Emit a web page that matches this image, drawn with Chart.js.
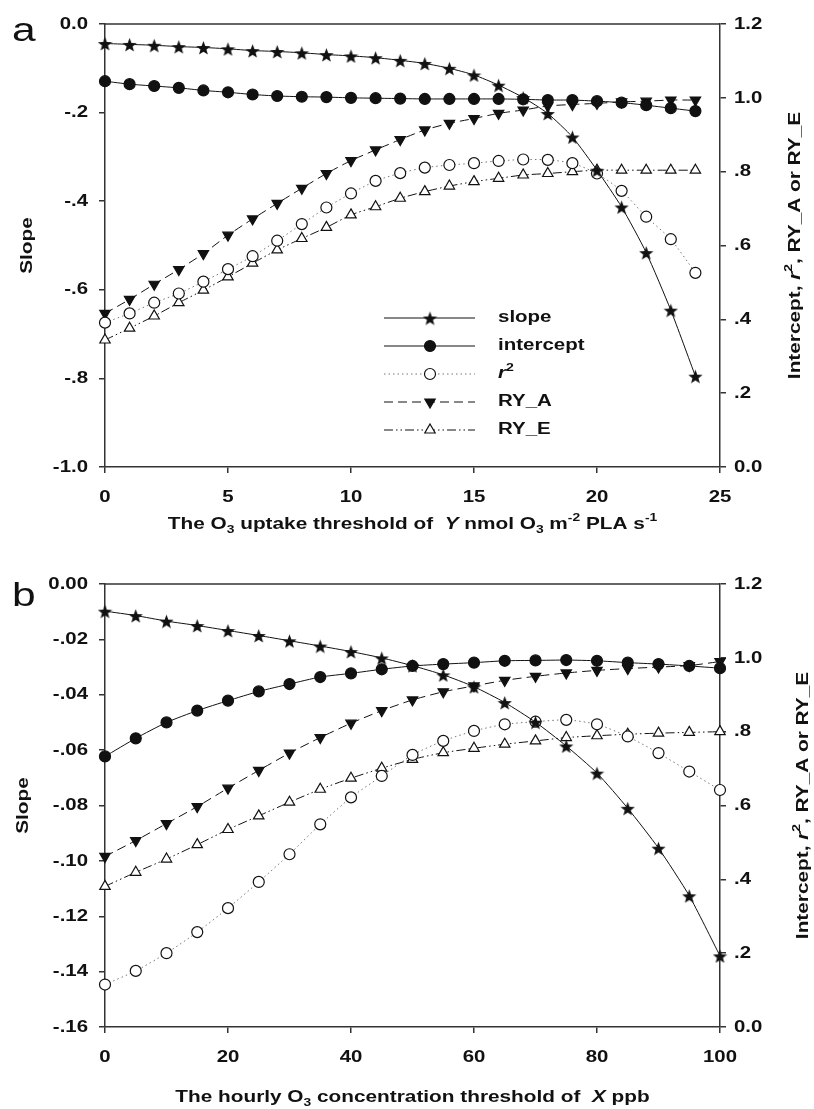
<!DOCTYPE html>
<html>
<head>
<meta charset="utf-8">
<script src="https://cdn.jsdelivr.net/npm/chart.js@4.4.1/dist/chart.umd.min.js"></script>
<style>
  body { margin: 0; background: #fff; width: 814px; height: 1109px; position: relative; overflow: hidden; }
  .panel { position: absolute; left: 0; width: 814px; }
  #wrapA { top: 0; height: 555px; }
  #wrapB { top: 555px; height: 554px; }
  .tag { position: absolute; left: 12px; font: 34px "Liberation Sans", Arial, sans-serif; color: #111; line-height: 1;
         transform: scaleX(1.25); transform-origin: left top; }
</style>
</head>
<body>
<div class="panel" id="wrapA"><canvas id="chartA" width="814" height="555"></canvas></div>
<div class="panel" id="wrapB"><canvas id="chartB" width="814" height="554"></canvas></div>
<div class="tag" style="top:12px">a</div>
<div class="tag" style="top:577px">b</div>
<script>
// ===========================
// Data — panel a (O3 uptake threshold Y)
// ===========================
const xA = [0, 1, 2, 3, 4, 5, 6, 7, 8, 9, 10, 11, 12, 13, 14, 15, 16, 17, 18, 19, 20, 21, 22, 23, 24];
const slopeA     = [-0.044, -0.046, -0.048, -0.051, -0.053, -0.056, -0.060, -0.062, -0.065, -0.069, -0.072, -0.076, -0.082, -0.089, -0.100, -0.115, -0.138, -0.166, -0.202, -0.255, -0.330, -0.413, -0.516, -0.646, -0.795];
const interceptA = [1.045, 1.037, 1.032, 1.027, 1.020, 1.015, 1.009, 1.005, 1.003, 1.002, 1.000, 0.999, 0.998, 0.997, 0.997, 0.997, 0.997, 0.996, 0.994, 0.994, 0.991, 0.987, 0.980, 0.972, 0.964];
const r2A        = [0.391, 0.416, 0.445, 0.470, 0.502, 0.536, 0.571, 0.613, 0.658, 0.703, 0.741, 0.775, 0.796, 0.811, 0.818, 0.823, 0.829, 0.833, 0.832, 0.823, 0.795, 0.748, 0.678, 0.617, 0.526];
const ryAA       = [0.416, 0.454, 0.495, 0.535, 0.578, 0.628, 0.672, 0.714, 0.755, 0.795, 0.830, 0.859, 0.887, 0.913, 0.931, 0.944, 0.958, 0.967, 0.978, 0.982, 0.985, 0.989, 0.991, 0.994, 0.994];
const ryEA       = [0.344, 0.376, 0.409, 0.445, 0.479, 0.515, 0.552, 0.588, 0.619, 0.649, 0.683, 0.705, 0.728, 0.746, 0.761, 0.773, 0.782, 0.791, 0.795, 0.800, 0.804, 0.804, 0.804, 0.804, 0.804];

// ===========================
// Data — panel b (hourly O3 concentration threshold X)
// ===========================
const xB = [0, 5, 10, 15, 20, 25, 30, 35, 40, 45, 50, 55, 60, 65, 70, 75, 80, 85, 90, 95, 100];
const slopeB     = [-0.0098, -0.0114, -0.0134, -0.0150, -0.0168, -0.0186, -0.0205, -0.0224, -0.0244, -0.0267, -0.0295, -0.0328, -0.0371, -0.0428, -0.0499, -0.0585, -0.0683, -0.0810, -0.0954, -0.1126, -0.1343];
const interceptB = [0.733, 0.782, 0.825, 0.857, 0.884, 0.909, 0.929, 0.948, 0.958, 0.969, 0.978, 0.983, 0.987, 0.992, 0.993, 0.994, 0.992, 0.987, 0.983, 0.978, 0.972];
const r2B        = [0.115, 0.152, 0.200, 0.257, 0.322, 0.393, 0.468, 0.549, 0.622, 0.680, 0.737, 0.775, 0.802, 0.820, 0.827, 0.832, 0.820, 0.787, 0.742, 0.692, 0.642];
const ryAB       = [0.462, 0.505, 0.551, 0.597, 0.647, 0.695, 0.742, 0.784, 0.823, 0.857, 0.886, 0.908, 0.924, 0.939, 0.950, 0.959, 0.966, 0.971, 0.975, 0.979, 0.990];
const ryEB       = [0.381, 0.419, 0.455, 0.494, 0.535, 0.572, 0.609, 0.644, 0.674, 0.701, 0.725, 0.743, 0.755, 0.766, 0.775, 0.784, 0.789, 0.793, 0.796, 0.798, 0.800];

// axis titles / legend text (segments: it = italic, sup / sub)
const legendText = [
  [{ t: 'slope' }],
  [{ t: 'intercept' }],
  [{ t: 'r', it: 1 }, { t: '2', sup: 1 }],
  [{ t: 'RY_A' }],
  [{ t: 'RY_E' }],
];
const titleXA = [{ t: 'The O' }, { t: '3', sub: 1 }, { t: ' uptake threshold of  ' }, { t: 'Y', it: 1 },
  { t: ' nmol O' }, { t: '3', sub: 1 }, { t: ' m' }, { t: '-2', sup: 1 }, { t: ' PLA s' }, { t: '-1', sup: 1 }];
const titleXB = [{ t: 'The hourly O' }, { t: '3', sub: 1 }, { t: ' concentration threshold of  ' }, { t: 'X', it: 1 }, { t: ' ppb' }];
const titleLeft = [{ t: 'Slope' }];
const titleRight = [{ t: 'Intercept, ' }, { t: 'r', it: 1 }, { t: '2', sup: 1 }, { t: ', RY_A or RY_E' }];

// ===========================
// Helpers
// ===========================
const FONT = '"Liberation Sans", Arial, sans-serif';
const INK = '#111';
const AXIS = '#333';
const TICK = { size: 17, sx: 1.2 };
const TITLE = { size: 16.5, sx: 1.26 };
const LEG = { size: 16, sx: 1.28 };

function fmt(v, d) {
  if (Math.abs(v) < 1e-9) return (0).toFixed(d);
  const s = v.toFixed(d);
  return Math.abs(v) >= 1 - 1e-9 ? s : s.replace('0.', '.');
}

// draws text made of segments, bold, stretched horizontally by f.sx
function drawRich(ctx, segs, x, y, f, rot, align) {
  ctx.save();
  ctx.translate(x, y);
  ctx.rotate(rot || 0);
  ctx.scale(f.sx, 1);
  let w = 0;
  const parts = segs.map(s => {
    const fs = (s.sup || s.sub) ? Math.round(f.size * 0.68) : f.size;
    const font = (s.it ? 'italic ' : '') + 'bold ' + fs + 'px ' + FONT;
    ctx.font = font;
    const pw = ctx.measureText(s.t).width;
    w += pw;
    return { s, font, pw, dy: s.sup ? -f.size * 0.38 : s.sub ? f.size * 0.34 : 0 };
  });
  let cx = align === 'left' ? 0 : align === 'right' ? -w : -w / 2;
  ctx.fillStyle = INK;
  ctx.textBaseline = 'middle';
  ctx.textAlign = 'left';
  parts.forEach(p => { ctx.font = p.font; ctx.fillText(p.s.t, cx, p.dy); cx += p.pw; });
  ctx.restore();
}

function starImage(size) {
  const c = document.createElement('canvas');
  c.width = size; c.height = size;
  const g = c.getContext('2d');
  const R = size / 2, r = R * 0.42;
  g.beginPath();
  for (let i = 0; i < 10; i++) {
    const a = -Math.PI / 2 + i * Math.PI / 5;
    const rr = i % 2 ? r : R;
    g.lineTo(R + rr * Math.cos(a), R + 1 + rr * Math.sin(a));
  }
  g.closePath();
  g.fillStyle = INK;
  g.fill();
  return c;
}
const STAR = starImage(15);

const styles = {
  slope:     { pointStyle: STAR, pointRadius: 7 },
  intercept: { pointStyle: 'circle', pointRadius: 5.5, pointBackgroundColor: INK },
  r2:        { borderColor: '#777', borderDash: [1.5, 3], pointStyle: 'circle', pointRadius: 5.5, pointBackgroundColor: '#fff' },
  RY_A:      { borderDash: [9, 5], pointStyle: 'triangle', pointRotation: 180, pointRadius: 6, pointBackgroundColor: INK },
  RY_E:      { borderDash: [9, 3, 1.5, 3, 1.5, 3], pointStyle: 'triangle', pointRadius: 6, pointBackgroundColor: '#fff' },
};

function series(name, xs, ys) {
  return Object.assign({
    label: name,
    yAxisID: name === 'slope' ? 'y' : 'y2',
    data: xs.map((x, i) => ({ x, y: ys[i] })),
    borderColor: INK,
    borderWidth: 1,
    tension: 0.2,
    clip: false,
    pointBorderColor: INK,
    pointBorderWidth: 1.2,
    pointBackgroundColor: INK,
  }, styles[name]);
}

const gridCfg = { display: true, drawOnChartArea: false, drawTicks: true, tickLength: 6, color: AXIS, lineWidth: 1.5 };
const borderCfg = { display: true, color: AXIS, width: 1.5 };

function drawLegend(chart) {
  const ctx = chart.ctx;
  chart.data.datasets.forEach((ds, i) => {
    const y = 318 + i * 28;
    ctx.save();
    ctx.strokeStyle = ds.borderColor;
    ctx.lineWidth = ds.borderWidth;
    ctx.setLineDash(ds.borderDash || []);
    ctx.beginPath(); ctx.moveTo(384, y); ctx.lineTo(475, y); ctx.stroke();
    ctx.setLineDash([]);
    ctx.fillStyle = ds.pointBackgroundColor;
    ctx.strokeStyle = ds.pointBorderColor;
    ctx.lineWidth = ds.pointBorderWidth;
    Chart.helpers.drawPoint(ctx, { pointStyle: ds.pointStyle, radius: ds.pointRadius, rotation: ds.pointRotation || 0, borderWidth: ds.pointBorderWidth }, 430, y);
    ctx.restore();
    drawRich(ctx, legendText[i], 498, y, LEG, 0, 'left');
  });
}

// tick labels, titles, top frame line and legend
function decor(cfg) {
  return {
    id: 'decor',
    afterDraw(chart) {
      const { ctx, chartArea: a, scales } = chart;
      ctx.save();
      ctx.strokeStyle = AXIS; ctx.lineWidth = 1.5;
      ctx.beginPath(); ctx.moveTo(a.left, a.top); ctx.lineTo(a.right, a.top); ctx.stroke();
      ctx.restore();

      scales.x.ticks.forEach(t => drawRich(ctx, [{ t: String(t.value) }], scales.x.getPixelForValue(t.value), a.bottom + cfg.xTickDy, TICK, 0));
      scales.y.ticks.forEach(t => drawRich(ctx, [{ t: fmt(t.value, cfg.yDec) }], a.left - 17, scales.y.getPixelForValue(t.value), TICK, 0, 'right'));
      scales.y2.ticks.forEach(t => drawRich(ctx, [{ t: fmt(t.value, 1) }], a.right + 14, scales.y2.getPixelForValue(t.value), TICK, 0, 'left'));

      const mid = (a.top + a.bottom) / 2;
      drawRich(ctx, cfg.xTitle, (a.left + a.right) / 2, cfg.xTitleY, TITLE, 0);
      drawRich(ctx, titleLeft, cfg.lTitleX, mid, TITLE, -Math.PI / 2);
      drawRich(ctx, titleRight, cfg.rTitleX, mid, TITLE, -Math.PI / 2);
      if (cfg.legend) drawLegend(chart);
    }
  };
}

function makeChart(id, cfg) {
  const datasets = [
    series('slope', cfg.xs, cfg.slope),
    series('intercept', cfg.xs, cfg.intercept),
    series('r2', cfg.xs, cfg.r2),
    series('RY_A', cfg.xs, cfg.ryA),
    series('RY_E', cfg.xs, cfg.ryE),
  ];
  return new Chart(document.getElementById(id), {
    type: 'line',
    data: { datasets },
    options: {
      responsive: false,
      animation: false,
      events: [],
      layout: { padding: { top: cfg.top, left: 0, right: 0, bottom: 0 } },
      plugins: { legend: { display: false }, tooltip: { enabled: false } },
      scales: {
        x: {
          type: 'linear', min: cfg.xMin, max: cfg.xMax,
          ticks: { stepSize: cfg.xStep, display: false },
          grid: gridCfg, border: borderCfg,
          afterFit: s => { s.height = cfg.xH; }
        },
        y: {
          position: 'left', min: cfg.yMin, max: 0,
          ticks: { stepSize: cfg.yStep, display: false },
          grid: gridCfg, border: borderCfg,
          afterFit: s => { s.width = 105; }
        },
        y2: {
          position: 'right', min: 0, max: 1.2,
          ticks: { stepSize: 0.2, display: false },
          grid: gridCfg, border: borderCfg,
          afterFit: s => { s.width = 94; }
        }
      }
    },
    plugins: [decor(cfg)]
  });
}

makeChart('chartA', {
  xs: xA, slope: slopeA, intercept: interceptA, r2: r2A, ryA: ryAA, ryE: ryEA,
  xMin: 0, xMax: 25, xStep: 5, yMin: -1, yStep: 0.2, yDec: 1,
  top: 24, xH: 88, xTickDy: 30, xTitle: titleXA, xTitleY: 524, lTitleX: 27, rTitleX: 795, legend: true
});

makeChart('chartB', {
  xs: xB, slope: slopeB, intercept: interceptB, r2: r2B, ryA: ryAB, ryE: ryEB,
  xMin: 0, xMax: 100, xStep: 20, yMin: -0.16, yStep: 0.02, yDec: 2,
  top: 29, xH: 82, xTickDy: 30, xTitle: titleXB, xTitleY: 542, lTitleX: 23, rTitleX: 803, legend: false
});
</script>
</body>
</html>
